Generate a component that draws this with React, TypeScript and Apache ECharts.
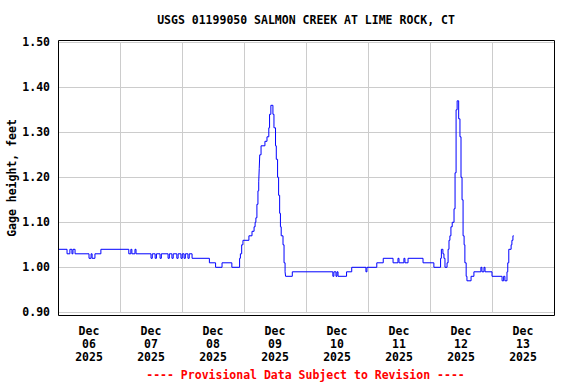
import React, { useEffect, useRef } from "react";
import * as echarts from "echarts";

const titleText = "USGS 01199050 SALMON CREEK AT LIME ROCK, CT";
const yAxisTitle = "Gage height, feet";
const footerText = "---- Provisional Data Subject to Revision ----";
const dayLabels = ["Dec\n06\n2025", "Dec\n07\n2025", "Dec\n08\n2025", "Dec\n09\n2025", "Dec\n10\n2025", "Dec\n11\n2025", "Dec\n12\n2025", "Dec\n13\n2025"];

// hours since Dec 06 00:00 and gage height (ft); each value holds until next point
const hours = [
  0, 3.5, 4.6, 5.4, 5.8, 6.6, 12.0, 12.8, 13.2, 14.3, 16.6, 27.4, 28.2, 28.6, 29.8, 30.2,
  36.0, 36.5, 37.6, 38.1, 39.5, 40.0, 42.6, 43.1, 44.1, 44.6, 46.0, 46.5, 47.6, 48.1,
  48.8, 49.3, 50.3, 50.8,
  51.9, 58.6, 61.0, 63.5, 67.3, 70.3, 70.6, 71.1, 71.6, 73.9, 75.1, 75.9, 76.3, 76.6, 77.0,
  77.4, 77.7, 77.9, 78.1, 78.6, 80.1, 80.9, 81.6, 81.9, 82.4, 83.2, 83.6, 84.2, 84.5, 85.0,
  85.4, 85.8, 86.1, 86.4, 87.1, 87.5, 87.9, 88.1, 90.7, 106.4, 106.8, 107.6, 108.0, 108.4,
  111.7, 113.7, 119.2, 119.6, 123.4, 125.9, 129.7, 131.6, 132.0, 133.9, 134.3, 135.5, 141.3,
  145.5, 148.1, 148.4, 149.0, 149.4, 149.8, 150.6, 151.0, 151.35, 151.7, 152.1, 152.6, 153.3,
  153.7, 154.1, 154.5, 155.1, 155.6, 156.0, 156.4, 156.8, 157.2, 157.5, 158.0, 158.3, 159.9,
  161.0, 163.7, 164.1, 164.9, 165.3, 168.0, 171.9, 172.5, 173.0, 173.8, 174.1, 174.5, 175.4,
  175.7, 176.1, 176.4,
];
const gage = [
  1.04, 1.03, 1.04, 1.03, 1.04, 1.03, 1.02, 1.03, 1.02, 1.03, 1.04, 1.03, 1.04, 1.03, 1.04, 1.03,
  1.02, 1.03, 1.02, 1.03, 1.02, 1.03, 1.02, 1.03, 1.02, 1.03, 1.02, 1.03, 1.02, 1.03,
  1.02, 1.03, 1.02, 1.03,
  1.02, 1.01, 1.0, 1.01, 1.0, 1.02, 1.03, 1.05, 1.06, 1.07, 1.08, 1.09, 1.1, 1.11, 1.14,
  1.17, 1.19, 1.22, 1.25, 1.27, 1.28, 1.29, 1.31, 1.34, 1.36, 1.34, 1.31, 1.27, 1.24, 1.2,
  1.16, 1.12, 1.09, 1.07, 1.05, 1.01, 0.99, 0.98, 0.99, 0.98, 0.99, 0.98, 0.99, 0.98,
  0.99, 1.0, 0.99, 1.0, 1.01, 1.02, 1.01, 1.02, 1.01, 1.02, 1.01, 1.02, 1.01,
  1.0, 1.02, 1.04, 1.03, 1.02, 1.0, 1.01, 1.04, 1.06, 1.07, 1.09, 1.1, 1.13,
  1.21, 1.35, 1.37, 1.33, 1.29, 1.2, 1.15, 1.07, 1.05, 1.01, 0.98, 0.97, 0.98,
  0.99, 1.0, 0.99, 1.0, 0.99, 0.98, 0.97, 0.98, 0.97, 0.99, 1.01, 1.04, 1.05,
  1.06, 1.07, 1.07,
];

const FONT = "'DejaVu Sans Mono', monospace";

export default function App() {
  const ref = useRef<HTMLDivElement>(null);
  useEffect(() => {
    if (!ref.current) return;
    const chart = echarts.init(ref.current, undefined, { renderer: "svg" });
    const txt = { fontFamily: FONT, fontWeight: "bold" as const, fontSize: 11.5, color: "#000" };
    chart.setOption({
      animation: false,
      backgroundColor: "#fff",
      grid: { left: 58, right: 22, top: 42.3, bottom: 384 - 312.3 },
      xAxis: [
        {
          type: "value",
          min: 0,
          max: 192,
          interval: 24,
          axisLine: { show: false },
          axisTick: { show: false },
          axisLabel: { show: false },
          splitLine: { show: true, lineStyle: { color: "#cccccc", width: 1 } },
        },
        {
          type: "category",
          data: dayLabels,
          boundaryGap: true,
          position: "bottom",
          axisLine: { show: false },
          axisTick: { show: false },
          splitLine: { show: false },
          axisLabel: { ...txt, lineHeight: 13, margin: 12 },
        },
      ],
      yAxis: {
        type: "value",
        min: 0.9,
        max: 1.5,
        interval: 0.1,
        axisLine: { show: false },
        axisTick: { show: false },
        splitLine: { show: true, lineStyle: { color: "#cccccc", width: 1 } },
        axisLabel: { ...txt, margin: 8, formatter: (v: number) => v.toFixed(2) },
      },
      graphic: [
        {
          type: "rect",
          shape: { x: 58.5, y: 40.5, width: 496, height: 275 },
          style: { fill: "none", stroke: "#000", lineWidth: 1 },
          z: 100,
        },
        {
          type: "text",
          x: 306,
          y: 20,
          style: { text: titleText, font: `bold 11.5px ${FONT}`, fill: "#000", align: "center", verticalAlign: "middle" },
        },
        {
          type: "text",
          x: 12,
          y: 178,
          rotation: Math.PI / 2,
          style: { text: yAxisTitle, font: `bold 11.5px ${FONT}`, fill: "#000", align: "center", verticalAlign: "middle" },
        },
        {
          type: "text",
          x: 305.5,
          y: 375,
          style: { text: footerText, font: `bold 11.5px ${FONT}`, fill: "#ff0000", align: "center", verticalAlign: "middle" },
        },
      ],
      series: [
        {
          type: "line",
          xAxisIndex: 0,
          step: "end",
          showSymbol: false,
          symbol: "none",
          lineStyle: { color: "#0000ff", width: 1 },
          data: hours.map((h, i) => [h, gage[i]]),
        },
      ],
    });
    return () => chart.dispose();
  }, []);
  return <div ref={ref} style={{ width: 576, height: 384, position: "absolute", left: 0, top: 0 }} />;
}
